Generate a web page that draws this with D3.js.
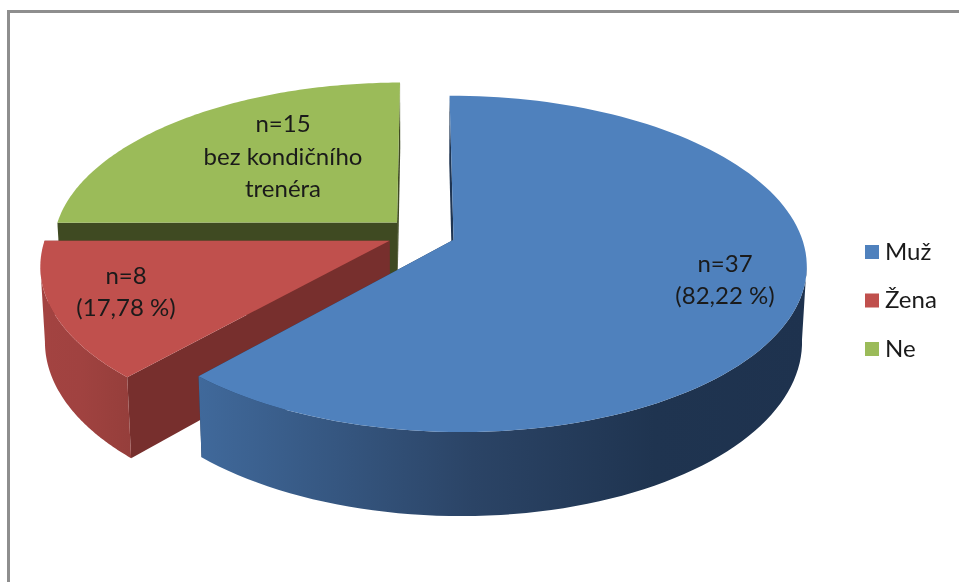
<!DOCTYPE html>
<html>
<head>
<meta charset="utf-8">
<script src="https://cdnjs.cloudflare.com/ajax/libs/d3/7.8.5/d3.min.js"></script>
<style>
html, body { margin: 0; padding: 0; background: #fff; }
svg { display: block; filter: blur(0.45px); }
text { font-family: Lato, "Open Sans", sans-serif; fill: #1a1a1a; }
</style>
</head>
<body>
<div id="chart"></div>
<script>
// data
const categories = ["Muž", "Žena", "Ne"];
const counts = [37, 8, 15];
const colors = ["#4F81BD", "#C0504D", "#9BBB59"];
const cutColors = ["#1F3552", "#772F2D", "#3F4A22"];
const sideStops = [
    ["#40699B", "#2B4466", "#1F3450", "#1E324E"],
    ["#A34341", "#A04240", "#9A403D", "#953E3B"],
    ["#6F8A3E", "#6A843B", "#637B37", "#5A7030"]
];
const sliceLabels = [
    ["n=37", "(82,22 %)"],
    ["n=8", "(17,78 %)"],
    ["n=15", "bez kondičního", "trenéra"]
];

const width = 959, height = 582;

// camera for the tilted pie: disk coords go in, page coords come out
const cam = {ax: 421.2, ay: 234, A: 345, B: 163, C: 75, p: 0.142, q: -0.005, r: 0.012};
const explode = 0.1;

function project(X, Y, d) {
    const w = 1 + cam.p * Y + cam.q * X + cam.r * d;
    return [cam.ax + cam.A * X / w, cam.ay - (cam.B * Y - cam.C * d) / w];
}

const svg = d3.select("#chart").append("svg")
    .attr("width", width)
    .attr("height", height);

// frame cropped on the right and bottom
svg.append("path")
    .attr("d", "M8.5," + height + "V11.5H" + width)
    .attr("fill", "none")
    .attr("stroke", "#8e8e8e")
    .attr("stroke-width", 3);

const color = d3.scaleOrdinal().domain(categories).range(colors);
const pie = d3.pie().sort(null).value(d => d.n);
const slices = pie(categories.map((c, i) => ({name: c, n: counts[i], index: i})));
const line = d3.line();
const defs = svg.append("defs");

function buildSlice(s) {
    const mid = (s.startAngle + s.endAngle) / 2;
    const ox = explode * Math.sin(mid), oy = explode * Math.cos(mid);
    const steps = d3.range(0, 121).map(k => s.startAngle + (s.endAngle - s.startAngle) * k / 120);
    const top = steps.map(t => project(ox + Math.sin(t), oy + Math.cos(t), 0));
    const bottom = steps.map(t => project(ox + Math.sin(t), oy + Math.cos(t), 1));
    const apexTop = project(ox, oy, 0), apexBottom = project(ox, oy, 1);
    return {top, bottom, apexTop, apexBottom};
}

// back slices first, the big blue one goes on top
[2, 1, 0].forEach(i => {
    const s = slices[i];
    const g = buildSlice(s);
    const n = g.top.length - 1;
    const xs = g.top.concat(g.bottom).map(p => p[0]);

    const grad = defs.append("linearGradient")
        .attr("id", "side" + i)
        .attr("gradientUnits", "userSpaceOnUse")
        .attr("x1", d3.min(xs)).attr("x2", d3.max(xs))
        .attr("y1", 0).attr("y2", 0);
    const stopOffset = [0, 0.45, 0.75, 1];
    sideStops[i].forEach((c, k) => {
        grad.append("stop").attr("offset", stopOffset[k]).attr("stop-color", c);
    });

    const group = svg.append("g");

    // the two cut faces
    [[g.top[0], g.bottom[0]], [g.top[n], g.bottom[n]]].forEach(edge => {
        group.append("path")
            .attr("d", line([g.apexTop, edge[0], edge[1], g.apexBottom]) + "Z")
            .attr("fill", cutColors[i]);
    });

    // outer wall, only the part that faces the viewer (top edge running leftwards)
    let wall = "";
    for (let k = 0; k < n; k++) {
        if (g.top[k + 1][0] < g.top[k][0]) {
            wall += line([g.top[k], g.top[k + 1], g.bottom[k + 1], g.bottom[k]]) + "Z";
        }
    }
    if (wall) group.append("path").attr("d", wall).attr("fill", "url(#side" + i + ")");

    group.append("path")
        .attr("d", line([g.apexTop].concat(g.top)) + "Z")
        .attr("fill", color(categories[i]));
});

// labels on the slices
const labelX = [725, 126, 283];
const labelY = [272, 284, 132];
const lineGap = [31.5, 32, 32.5];
sliceLabels.forEach((lines, i) => {
    lines.forEach((t, j) => {
        svg.append("text")
            .attr("x", labelX[i])
            .attr("y", labelY[i] + j * lineGap[i])
            .attr("text-anchor", "middle")
            .attr("font-size", 24)
            .text(t);
    });
});

// legend
const legendY = d3.scalePoint().domain(categories).range([252, 349]);
categories.forEach(c => {
    svg.append("rect")
        .attr("x", 865)
        .attr("y", legendY(c) - 7)
        .attr("width", 14)
        .attr("height", 14)
        .attr("fill", color(c));
    svg.append("text")
        .attr("x", 885)
        .attr("y", legendY(c) + 7.5)
        .attr("font-size", 24)
        .text(c);
});
</script>
</body>
</html>
